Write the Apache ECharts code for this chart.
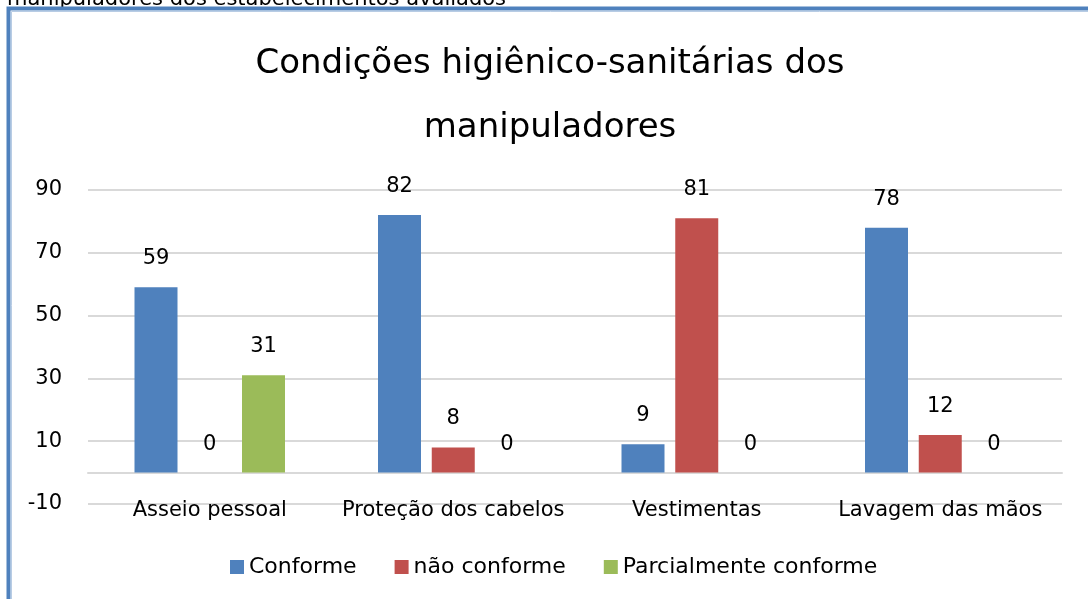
<!DOCTYPE html>
<html>
<head>
<meta charset="utf-8">
<script src="https://cdn.jsdelivr.net/npm/echarts@6/dist/echarts.min.js"></script>
<style>
  html, body { margin: 0; padding: 0; background: #fff; }
  #chart { width: 1088px; height: 599px; }
</style>
</head>
<body>
<div id="chart"></div>
<script>
var categories = ['Asseio pessoal', 'Proteção dos cabelos', 'Vestimentas', 'Lavagem das mãos'];
var conforme = [59, 82, 9, 78];
var naoConforme = [0, 8, 81, 12];
var parcial = [31, 0, 0, 0];

var font = '"DejaVu Sans", sans-serif';
var chart = echarts.init(document.getElementById('chart'));

function barSeries(name, data, color) {
  return {
    name: name,
    type: 'bar',
    data: data,
    barWidth: 43,
    barGap: '25%',
    itemStyle: { color: color },
    label: {
      show: true,
      position: 'top',
      distance: 18,
      color: '#000',
      fontSize: 21,
      fontFamily: font
    }
  };
}

var option = {
  backgroundColor: '#fff',
  animation: false,
  title: {
    text: 'Condições higiênico-sanitárias dos\nmanipuladores',
    left: 545,
    top: 27,
    textAlign: 'center',
    textStyle: {
      fontFamily: font,
      fontSize: 34,
      fontWeight: 'normal',
      color: '#000',
      lineHeight: 64
    }
  },
  graphic: [
    {
      type: 'text',
      left: 7,
      top: -11,
      style: {
        text: 'manipuladores dos estabelecimentos avaliados',
        fontFamily: font,
        fontSize: 21,
        fill: '#000'
      }
    },
    {
      type: 'rect',
      shape: { x: 8.5, y: 8.5, width: 1200, height: 700 },
      style: { fill: 'none', stroke: '#4f81bd', lineWidth: 4 }
    },
    {
      type: 'rect',
      shape: { x: 11.5, y: 11.5, width: 1200, height: 700 },
      style: { fill: 'none', stroke: '#b8cce4', lineWidth: 1 }
    }
  ],
  legend: {
    top: 551,
    left: 225,
    itemWidth: 14,
    itemHeight: 14,
    itemGap: 38,
    icon: 'rect',
    textStyle: { fontFamily: font, fontSize: 22, color: '#000' },
    data: ['Conforme', 'não conforme', 'Parcialmente conforme']
  },
  grid: { left: 88, right: 26, top: 190, bottom: 95 },
  xAxis: {
    type: 'category',
    data: categories,
    axisTick: { show: false },
    axisLine: { show: true, onZero: true, lineStyle: { color: '#d9d9d9', width: 2 } },
    axisLabel: {
      color: '#000',
      fontSize: 21,
      fontFamily: font,
      interval: 0,
      margin: -4
    }
  },
  yAxis: {
    type: 'value',
    min: -10,
    max: 90,
    interval: 20,
    axisLine: { show: false },
    axisTick: { show: false },
    splitLine: { lineStyle: { color: '#d9d9d9', width: 2 } },
    axisLabel: { color: '#000', fontSize: 21, fontFamily: font, margin: 26 }
  },
  series: [
    barSeries('Conforme', conforme, '#4f81bd'),
    barSeries('não conforme', naoConforme, '#c0504d'),
    barSeries('Parcialmente conforme', parcial, '#9bbb59')
  ]
};
chart.setOption(option);
</script>
</body>
</html>
